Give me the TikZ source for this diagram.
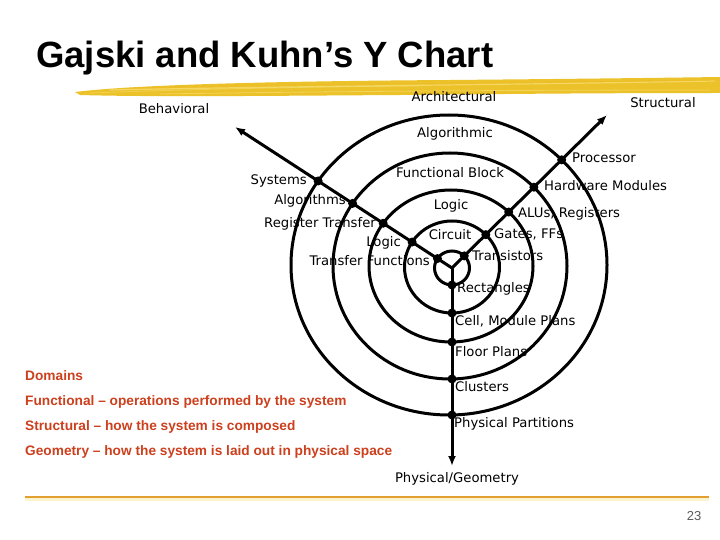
\documentclass[tikz,border=0pt]{standalone}
\usepackage{fontspec}
\usetikzlibrary{arrows.meta,intersections}
\newfontfamily\lblfont{DejaVu Sans}
\newfontfamily\arialfont{Liberation Sans}
\definecolor{brushgold}{RGB}{236,194,42}
\definecolor{brushlight}{RGB}{248,224,120}
\definecolor{rulegold}{RGB}{226,160,48}
\definecolor{domred}{RGB}{204,64,30}
\definecolor{pagegray}{RGB}{90,90,90}
\begin{document}
\begin{tikzpicture}[x=1pt,y=-1pt,
  ring/.style={line width=3pt},
  axisline/.style={line width=3pt,-{Latex[length=10pt,width=8pt]}},
  dot/.style={circle,fill=black,inner sep=0pt,minimum size=9pt},
  lbl/.style={inner sep=0pt,font=\lblfont\fontsize{13.2}{15}\selectfont},
  dom/.style={inner sep=0pt,anchor=base west,text=domred,font=\arialfont\bfseries\fontsize{13.7}{16}\selectfont},
]
\useasboundingbox (0,0) rectangle (720,540);
\fill[white] (0,0) rectangle (720,540);

% title
\node[inner sep=0pt,anchor=base west,font=\arialfont\bfseries\fontsize{36.5}{40}\selectfont] (title) at (36,68) {Gajski and Kuhn’s Y Chart};

% brush stroke
\fill[brushgold] (75,92) .. controls (140,84) and (300,81) .. (450,80)
  .. controls (560,79) and (650,78) .. (720,77) -- (720,93)
  .. controls (600,93) and (500,94) .. (400,95)
  .. controls (250,96) and (150,97) .. (80,95) -- cycle;
\draw[brushlight,line width=1.2pt,opacity=.7] (110,90) .. controls (300,86) and (500,85) .. (715,81);
\draw[brushlight,line width=0.8pt,opacity=.6] (160,94) .. controls (350,91) and (550,90) .. (710,90);
\draw[brushlight,line width=0.8pt,opacity=.5] (90,93) .. controls (200,89) and (300,87) .. (420,86);
\draw[brushgold!85!orange,line width=0.8pt,opacity=.6] (130,88) .. controls (300,84) and (500,83) .. (718,80);

% rings
\draw[ring,name path=e5] (449,265) ellipse [x radius=158pt, y radius=150pt];
\draw[ring,name path=e4] (450,266) ellipse [x radius=117pt, y radius=113pt];
\draw[ring,name path=e3] (451,266) ellipse [x radius=82pt, y radius=76pt];
\draw[ring,name path=e2] (452,267) ellipse [x radius=47.5pt, y radius=46pt];
\draw[ring,name path=e1] (452,268) ellipse [x radius=17.5pt, y radius=17pt];

% axes
\coordinate (C) at (452,268);
\coordinate (btip) at (235,127);
\coordinate (stip) at (607,115);
\coordinate (gtip) at (452,466);
\draw[axisline,name path=lb] (C) -- (btip);
\draw[axisline,name path=ls] (C) -- (stip);
\draw[axisline,name path=lg] (C) -- (gtip);

% intersections
\path[name intersections={of=lb and e1, by=b1}];
\path[name intersections={of=lb and e2, by=b2}];
\path[name intersections={of=lb and e3, by=b3}];
\path[name intersections={of=lb and e4, by=b4}];
\path[name intersections={of=lb and e5, by=b5}];
\path[name intersections={of=ls and e1, by=s1}];
\path[name intersections={of=ls and e2, by=s2}];
\path[name intersections={of=ls and e3, by=s3}];
\path[name intersections={of=ls and e4, by=s4}];
\path[name intersections={of=ls and e5, by=s5}];
\path[name intersections={of=lg and e1, by=g1}];
\path[name intersections={of=lg and e2, by=g2}];
\path[name intersections={of=lg and e3, by=g3}];
\path[name intersections={of=lg and e4, by=g4}];
\path[name intersections={of=lg and e5, by=g5}];
\node[dot] (db1) at (b1) {};
\node[dot] (db2) at (b2) {};
\node[dot] (db3) at (b3) {};
\node[dot] (db4) at (b4) {};
\node[dot] (db5) at (b5) {};
\node[dot] (ds1) at (s1) {};
\node[dot] (ds2) at (s2) {};
\node[dot] (ds3) at (s3) {};
\node[dot] (ds4) at (s4) {};
\node[dot] (ds5) at (s5) {};
\node[dot] (dg1) at (g1) {};
\node[dot] (dg2) at (g2) {};
\node[dot] (dg3) at (g3) {};
\node[dot] (dg4) at (g4) {};
\node[dot] (dg5) at (g5) {};

% domain labels
\node[lbl,anchor=base] (behav) at (174,114) {Behavioral};
\node[lbl,anchor=base] (arch) at (454,102) {Architectural};
\node[lbl,anchor=base] (struct) at (663,108) {Structural};
\node[lbl,anchor=base] (algic) at (455,138) {Algorithmic};
\node[lbl,anchor=base] (fblock) at (450,178) {Functional Block};
\node[lbl,anchor=base] (logicu) at (451,210) {Logic};
\node[lbl,anchor=base] (circ) at (450,240) {Circuit};
\node[lbl,anchor=base] (physg) at (457,482) {Physical/Geometry};

% behavioral labels
\node[lbl,anchor=base east] (sys) at (307,185) {Systems};
\node[lbl,anchor=base east] (algs) at (346,205) {Algorithms};
\node[lbl,anchor=base east] (regt) at (376,227) {Register Transfer};
\node[lbl,anchor=base east] (logicl) at (401,246) {Logic};
\node[lbl,anchor=base east] (trf) at (430,265) {Transfer Functions};

% structural labels
\node[lbl,anchor=base west] (proc) at (572,163) {Processor};
\node[lbl,anchor=base west] (hwm) at (544,191) {Hardware Modules};
\node[lbl,anchor=base west] (alus) at (518,218) {ALUs, Registers};
\node[lbl,anchor=base west] (gates) at (494,238) {Gates, FFs};
\node[lbl,anchor=base west] (trans) at (472,260) {Transistors};

% geometry labels
\node[lbl,anchor=base west] (rect) at (457,292) {Rectangles};
\node[lbl,anchor=base west] (cell) at (455,325) {Cell, Module Plans};
\node[lbl,anchor=base west] (floor) at (455,356) {Floor Plans};
\node[lbl,anchor=base west] (clus) at (455,391) {Clusters};
\node[lbl,anchor=base west] (ppart) at (454,427) {Physical Partitions};

% domains text
\node[dom] (d0) at (25,380) {Domains};
\node[dom] (d1) at (25,405) {Functional – operations performed by the system};
\node[dom] (d2) at (25,430) {Structural – how the system is composed};
\node[dom] (d3) at (25,455) {Geometry – how the system is laid out in physical space};

% bottom rule and page number
\draw[brushlight,line width=5pt,opacity=.35] (25,498) -- (709,498);
\draw[rulegold,line width=2.5pt] (25,497) -- (709,497);
\node[inner sep=0pt,anchor=base,text=pagegray,font=\arialfont\fontsize{13}{15}\selectfont] (pnum) at (694,520) {23};
\end{tikzpicture}
\end{document}
